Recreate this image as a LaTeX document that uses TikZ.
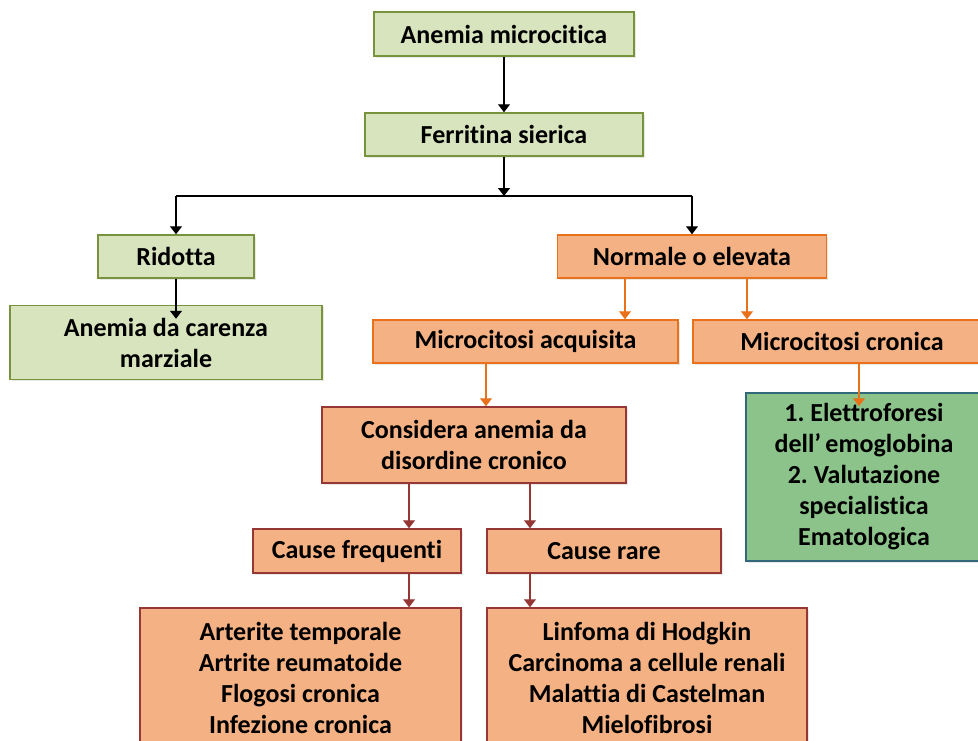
\documentclass[tikz,border=0pt]{standalone}
\usepackage{fontspec}
\setmainfont{Carlito}[Ligatures={NoCommon}]
\frenchspacing
\usetikzlibrary{arrows.meta,shadows}
\definecolor{gfill}{HTML}{D7E4BD}
\definecolor{gline}{HTML}{77933C}
\definecolor{ofill}{HTML}{F4B183}
\definecolor{oline}{HTML}{E8711A}
\definecolor{rline}{HTML}{953735}
\definecolor{tfill}{HTML}{8BC38A}
\definecolor{tline}{HTML}{31687A}
\tikzset{
  box/.style={rectangle, line width=1.5pt, align=center, inner sep=0pt,
    font=\fontsize{26}{31}\selectfont\bfseries,
    drop shadow={opacity=0.18, shadow xshift=1.5pt, shadow yshift=-1.5pt}},
  gbox/.style={box, draw=gline, fill=gfill},
  obox/.style={box, draw=oline, fill=ofill},
  rbox/.style={box, draw=rline, fill=ofill},
  tbox/.style={box, draw=tline, fill=tfill},
  arr/.style={line width=1.3pt, -{Triangle[width=12pt,length=8pt]}},
  karr/.style={arr, draw=black},
  oarr/.style={arr, draw=oline, fill=oline},
  rarr/.style={arr, draw=rline, fill=rline},
}
\begin{document}
\begin{tikzpicture}[x=1pt,y=-1pt]
\useasboundingbox (0,0) rectangle (978,740);
% nodes
\node[gbox, minimum width=260pt, minimum height=44pt] (anem) at (504,34) {Anemia microcitica};
\node[gbox, minimum width=278pt, minimum height=43pt] (ferr) at (504,134.5) {Ferritina sierica};
\node[gbox, minimum width=156pt, minimum height=43pt] (rid) at (176,256.5) {Ridotta};
\node[gbox, minimum width=312pt, minimum height=74pt] (car) at (166,342.5) {Anemia da carenza\\marziale};
\node[obox, minimum width=269pt, minimum height=43pt] (norm) at (692,256.5) {Normale o elevata};
\node[obox, minimum width=305pt, minimum height=43pt] (acq) at (525.5,341.5) {Microcitosi acquisita};
\node[obox, minimum width=298pt, minimum height=43pt] (cron) at (842,341.5) {Microcitosi cronica};
\node[tbox, minimum width=236pt, minimum height=168pt] (spec) at (864,477) {1. Elettroforesi\\dell’\,emoglobina\\2. Valutazione\\specialistica\\Ematologica};
\node[rbox, minimum width=304pt, minimum height=76pt] (cons) at (474,445) {Considera anemia da\\disordine cronico};
\node[rbox, minimum width=208pt, minimum height=44pt] (freq) at (357,551) {Cause frequenti};
\node[rbox, minimum width=234pt, minimum height=44pt] (rare) at (604,551) {Cause rare};
\node[rbox, minimum width=321pt, minimum height=140pt] (fl) at (300.5,678) {Arterite temporale\\Artrite reumatoide\\Flogosi cronica\\Infezione cronica};
\node[rbox, minimum width=320pt, minimum height=140pt] (rl) at (647,678) {Linfoma di Hodgkin\\Carcinoma a cellule renali\\Malattia di Castelman\\Mielofibrosi};
% connectors
\coordinate (split) at (504,196);
\draw[karr] (anem) -- (ferr);
\draw[karr] (ferr.south) -- (split);
\draw[line width=1.3pt] (split -| rid.north) -- (split -| norm.north);
\draw[karr] (split -| rid.north) -- (rid.north);
\draw[karr] (split -| norm.north) -- (norm.north);
\draw[karr] (rid.south) -- ([yshift=-14pt]car.north -| rid.south);
\draw[oarr] (norm.south -| 625,0) -- (acq.north -| 625,0);
\draw[oarr] (norm.south -| 747,0) -- (cron.north -| 747,0);
\draw[oarr] (acq.south -| 486,0) -- (cons.north -| 486,0);
\draw[oarr] (cron.south -| 859,0) -- ([yshift=-14pt]spec.north -| 859,0);
\draw[rarr] (cons.south -| 409,0) -- (freq.north -| 409,0);
\draw[rarr] (cons.south -| 530,0) -- (rare.north -| 530,0);
\draw[rarr] (freq.south -| 409,0) -- (fl.north -| 409,0);
\draw[rarr] (rare.south -| 530,0) -- (rl.north -| 530,0);
\end{tikzpicture}
\end{document}
